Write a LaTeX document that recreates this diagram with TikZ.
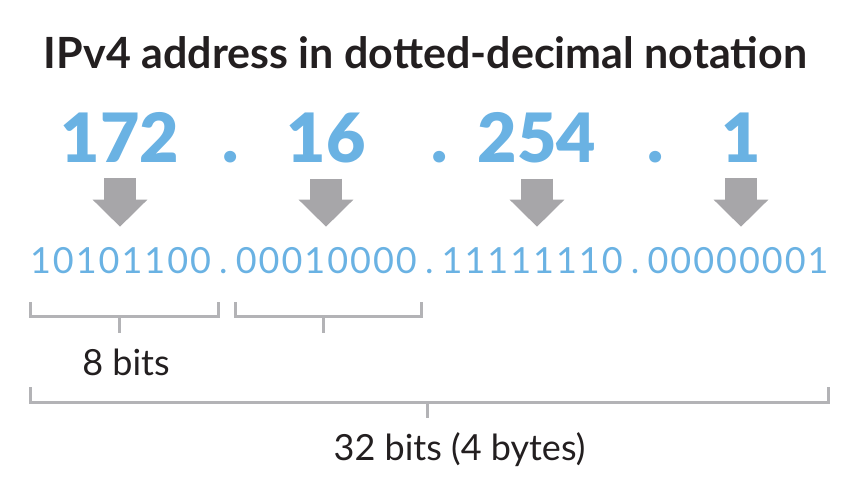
\documentclass[tikz,border=0pt]{standalone}
\usepackage{fontspec}
\setmainfont{Lato}
\newfontfamily\heavyfont{Lato Black}
\newfontfamily\bitfont{Lato}[Numbers=Monospaced]
\usetikzlibrary{arrows.meta}
\definecolor{ipblue}{HTML}{6AB2E3}
\definecolor{arrowgray}{HTML}{A7A6A9}
\definecolor{bracegray}{HTML}{B3B3B6}
\definecolor{inkgray}{HTML}{231F20}
% every character of the bit string in a cell of its own
\newcommand\bitcells[1]{\bitcellloop#1\relax}
\def\bitcellloop#1{\ifx#1\relax\else\makebox[22.87pt]{#1}\expandafter\bitcellloop\fi}
\begin{document}
\begin{tikzpicture}[x=1pt, y=-1pt,
  every node/.style={inner sep=0pt},
  heading/.style={font=\fontsize{43}{43}\selectfont\bfseries, text=inkgray, anchor=base},
  decimal/.style={font=\heavyfont\fontsize{68}{68}\selectfont, text=ipblue, anchor=base},
  binary/.style={font=\bitfont\fontsize{36}{36}\selectfont, text=ipblue, anchor=base},
  bitnote/.style={font=\fontsize{36}{36}\selectfont, text=inkgray, anchor=base},
  fatarrow/.style={arrowgray, line width=32pt, -{Triangle[width=53pt, length=27pt]},
    shorten <=16pt, shorten >=20pt},
  brace/.style={draw=bracegray, line width=3pt}]
\useasboundingbox (0,0) rectangle (856,488);
\node[heading] (title) at (425.5,68) {IPv4 address in dotted-decimal notation};
% decimal form
\node[decimal] (n1) at (120,162) {172};
\node[decimal] (p1) at (231,162) {.};
\node[decimal] (n2) at (326,162) {16};
\node[decimal] (p2) at (440,162) {.};
\node[decimal] (n3) at (537,162) {254};
\node[decimal] (p3) at (656,162) {.};
\node[decimal] (n4) at (741,162) {1};
% binary form
\node[binary] (bits) at (429.3,273) {\bitcells{10101100.00010000.11111110.00000001}};
\draw[fatarrow] (n1.south) -- (n1.south |- bits.north);
\draw[fatarrow] (n2.south) -- (n2.south |- bits.north);
\draw[fatarrow] (n3.south) -- (n3.south |- bits.north);
\draw[fatarrow] (n4.south) -- (n4.south |- bits.north);
% brackets
\draw[brace] (30,302) -- (30,316) -- (218,316) -- (218,302);
\draw[brace] (119,316) -- (119,333);
\draw[brace] (235,302) -- (235,316) -- (421,316) -- (421,302);
\draw[brace] (323,316) -- (323,333);
\node[bitnote] (byte) at (126,375) {8 bits};
\draw[brace] (30,387) -- (30,402) -- (828,402) -- (828,387);
\draw[brace] (427,402) -- (427,418);
\node[bitnote] (word) at (459.5,460) {32 bits (4 bytes)};
\end{tikzpicture}
\end{document}
